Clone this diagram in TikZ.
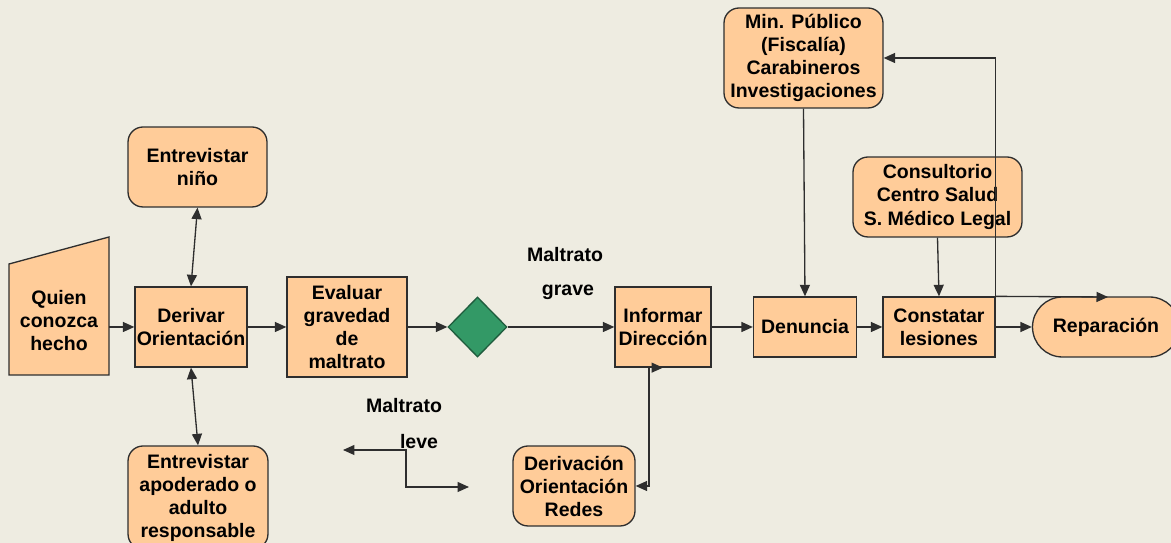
\documentclass[tikz,border=0pt]{standalone}
\usepackage{fontspec}
\setmainfont{Liberation Sans}
\usetikzlibrary{arrows.meta,%
                shapes.geometric}
\definecolor{fondo}{HTML}{EEECE1}
\definecolor{durazno}{HTML}{FFCC99}
\definecolor{verde}{HTML}{339966}
\definecolor{linea}{HTML}{2E2E2E}

\begin{document}
\begin{tikzpicture}[x=0.02cm,y=-0.02cm,font=\fontsize{11.1}{13.1}\selectfont\bfseries]
  \tikzstyle{caja}=[draw=linea,fill=durazno,line width=0.75pt,align=center,inner sep=0pt]
  \tikzstyle{redonda}=[caja,rounded corners=0.3cm]
  \tikzstyle{flecha}=[draw=linea,line width=0.75pt,-{Triangle[length=0.23cm,width=0.2cm]}]
  \tikzstyle{doble}=[flecha,{Triangle[length=0.23cm,width=0.2cm]}-{Triangle[length=0.23cm,width=0.2cm]}]

  \useasboundingbox (0,0) rectangle (1171,543);
  \fill[fondo] (0,0) rectangle (1171,543);

  % entrada
  \draw[caja] (9,264) -- (109,237) -- (109,375) -- (9,375) -- cycle;
  \node[align=center,minimum width=2cm] (quien) at (59,321) {Quien\\conozca\\hecho};

  \node[caja,minimum width=2.24cm,minimum height=1.6cm] (derivar) at (191,327) {Derivar\\Orientación};
  \node[redonda,minimum width=2.78cm,minimum height=1.6cm] (ninio) at (197.5,167) {Entrevistar\\niño};
  \node[redonda,minimum width=2.8cm,minimum height=2.06cm] (apoderado) at (198,497.5) {Entrevistar\\apoderado o\\adulto\\responsable};
  \node[caja,minimum width=2.4cm,minimum height=2cm] (evaluar) at (347,327) {Evaluar\\gravedad\\de\\maltrato};
  \node[diamond,draw=verde!60!black,fill=verde,line width=0.75pt,minimum width=1.18cm,minimum height=1.2cm,inner sep=0pt] (rombo) at (477.5,327) {};
  \node[caja,minimum width=1.92cm,minimum height=1.6cm] (informar) at (663,327) {Informar\\Dirección};
  \node[caja,minimum width=2.06cm,minimum height=1.2cm] (denuncia) at (805,327) {Denuncia};
  \node[caja,minimum width=2.24cm,minimum height=1.2cm] (constatar) at (939,327) {Constatar\\lesiones};
  \node[caja,rounded corners=0.6cm,minimum width=2.94cm,minimum height=1.2cm] (reparacion) at (1106,327) {Reparación};
  \node[redonda,minimum width=3.18cm,minimum height=2cm] (minpub) at (803.5,58) {Min. Público\\(Fiscalía)\\Carabineros\\Investigaciones};
  \node[redonda,minimum width=3.38cm,minimum height=1.6cm] (consultorio) at (937.5,197) {Consultorio\\Centro Salud\\S. Médico Legal};
  \node[redonda,minimum width=2.44cm,minimum height=1.6cm] (derivacion) at (574,486) {Derivación\\Orientación\\Redes};

  % etiquetas
  \node (grave1) at (565,255) {Maltrato};
  \node (grave2) at (568,292) {grave};
  \node (leve1) at (404,406) {Maltrato};
  \node (leve2) at (419,442) {leve};

  \coordinate (leveA) at (343,450);
  \coordinate (leveB) at (406,450);
  \coordinate (leveC) at (469,487);
  \coordinate (fin) at (1108,297);

  \draw[flecha] (quien.east |- derivar) -- (derivar);
  \draw[flecha] (derivar) -- (evaluar);
  \draw[flecha] (evaluar) -- (rombo);
  \draw[flecha] (rombo) -- (informar);
  \draw[flecha] (informar) -- (denuncia);
  \draw[flecha] (denuncia) -- (constatar);
  \draw[flecha] (constatar) -- (reparacion);
  \draw[doble] (ninio.south) -- (derivar.north);
  \draw[doble] (derivar.south) -- (apoderado.north);
  \draw[flecha] (minpub.south) -- (denuncia.north);
  \draw[flecha] (consultorio.south) -- (constatar.north);
  \draw[flecha] (constatar.north east) |- (minpub.east);
  \draw[flecha] (constatar.north east) -- (fin);
  \draw[doble] (derivacion.east) -| ([xshift=-0.28cm]informar.south) -- (informar.south);
  \draw[doble] (leveA) -- (leveB) |- (leveC);

\end{tikzpicture}
\end{document}
